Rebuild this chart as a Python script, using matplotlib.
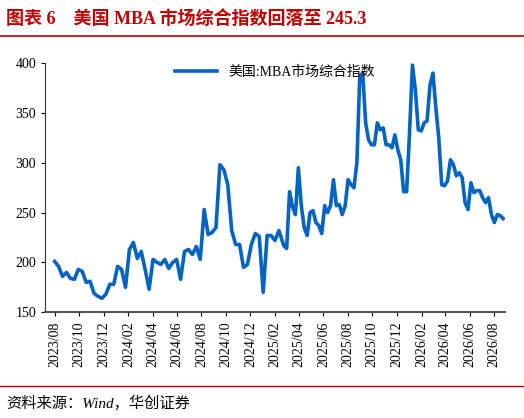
import matplotlib
matplotlib.use("Agg")
import matplotlib.pyplot as plt
import matplotlib.dates as mdates
import pandas as pd

plt.rcParams['font.family'] = ['Liberation Serif', 'Noto Sans CJK SC', 'DejaVu Sans']

TITLE = "图表 6    美国 MBA 市场综合指数回落至 245.3"
SERIES_NAME = "美国:MBA市场综合指数"
SOURCE = "资料来源：Wind，华创证券"

# readings 2023/08 -> 2025/02
values_a = [
    201, 196, 186, 190, 184, 183, 193, 191, 180, 181, 169, 166, 164, 168, 178, 178,
    196, 193, 175, 213, 220, 204, 211, 193, 173, 203, 200, 198, 203, 194, 200, 203,
    183, 211, 213, 208, 216, 203, 253, 228, 230, 235, 298, 293, 278, 232, 218, 218,
    195, 198, 218, 229, 226, 170, 227, 227, 222, 232,
]
# readings 2025/02 -> 2026/08
values_b = [
    217, 214, 271, 256, 248, 295, 257, 235, 227, 250, 252, 240, 237, 229, 257, 250,
    257, 283, 257, 258, 248, 257, 283, 278, 275, 300, 387, 390, 340, 323, 318, 318,
    340, 333, 335, 318, 318, 315, 328, 313, 303, 271, 271, 330, 398, 373, 333, 332,
    340, 342, 378, 390, 355, 325, 278, 277, 282, 303, 298, 287, 290, 285, 260, 253,
    280, 270, 272, 272, 265, 260, 265, 248, 240, 248, 247, 244,
]
dates_a = pd.date_range("2023-08-01", "2025-02-10", periods=len(values_a))
dates_b = pd.date_range("2025-02-22", "2026-08-23", periods=len(values_b))
dates = dates_a.append(dates_b)
values = values_a + values_b

fig = plt.figure(figsize=(5.24, 4.18), dpi=100)
ax = fig.add_axes([0.086, 0.253, 0.878, 0.596])

ax.plot(dates, values, color="#0563C1", lw=2.6, label=SERIES_NAME)
ax.set_ylim(150, 400)
ax.set_yticks(range(150, 401, 50))
ax.set_xlim(pd.Timestamp("2023-07-08"), pd.Timestamp("2026-08-28"))
ax.xaxis.set_major_locator(mdates.MonthLocator(bymonth=[2, 4, 6, 8, 10, 12]))
ax.xaxis.set_major_formatter(mdates.DateFormatter("%Y/%m"))
plt.setp(ax.get_xticklabels(), rotation=90)
ax.tick_params(labelsize=10, direction="out", length=3)
for s in ["top", "right"]:
    ax.spines[s].set_visible(False)
ax.spines["left"].set_color("#333333")
ax.spines["bottom"].set_color("#555555")
ax.spines["bottom"].set_linewidth(1.5)

ax.legend(loc="upper center", bbox_to_anchor=(0.5, 1.04), frameon=False,
          fontsize=10, handlelength=3, prop={'family': ['Liberation Serif', 'Noto Sans CJK SC']})

fig.text(0.012, 0.955, TITLE, color="#C00000", fontsize=13, fontweight="bold", va="center")
fig.add_artist(plt.Line2D([0, 1], [0.915, 0.915], color="#C00000", lw=1.2))
fig.add_artist(plt.Line2D([0, 1], [0.077, 0.077], color="#C00000", lw=1.0))
fig.text(0.012, 0.035, SOURCE, fontsize=11, style="italic", va="center")

fig.savefig("out.png", dpi=100)
